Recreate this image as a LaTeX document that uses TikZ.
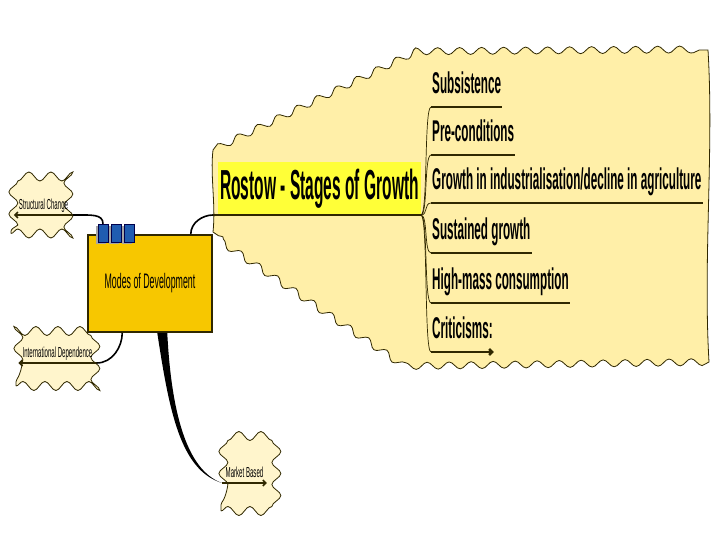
\documentclass[tikz,border=0pt]{standalone}
\usepackage{fontspec}
\setmainfont{Liberation Sans}[FakeStretch=0.42]
\newfontfamily\titlefont{Liberation Sans}[FakeStretch=0.37]
\newfontfamily\itemfont{Liberation Sans}[FakeStretch=0.39]
\usetikzlibrary{arrows.meta}
\usetikzlibrary{decorations.pathmorphing}

\definecolor{notefill}{RGB}{255,239,168}
\definecolor{tagfill}{RGB}{255,245,204}
\definecolor{modesfill}{RGB}{247,199,0}
\definecolor{hilite}{RGB}{255,255,56}
\definecolor{inkline}{RGB}{48,40,0}
\definecolor{tabblue}{RGB}{32,92,176}

\begin{document}
\begin{tikzpicture}[x=1pt, y=-1pt,
    wavy/.style={draw=inkline, fill=tagfill, line width=0.8pt, decorate,
      decoration={snake, segment length=22pt, amplitude=4.5pt}},
    tag/.style={font=\fontsize{14.5}{15}\selectfont, anchor=south, inner ysep=2pt,
      text height=10pt, text depth=3pt},
    item/.style={font=\itemfont\bfseries\fontsize{30}{32}\selectfont, anchor=south west,
      inner xsep=1pt, inner ysep=5pt, text height=22pt, text depth=8pt},
    tab/.style={draw=black!70!blue, fill=tabblue, minimum width=10pt, minimum height=18pt, inner sep=0pt},
    uline/.style={line width=2.4pt, inkline},
    tagline/.style={line width=1.6pt, inkline},
    link/.style={line width=1.6pt, black},
    tip/.tip={Straight Barb[length=3pt, width=6pt]}]

        \useasboundingbox (0,0) rectangle (720,540);

        % Big wavy callout behind the Rostow branch
        \path[fill=notefill, draw=inkline, line width=0.8pt]
            (213,150) decorate[decoration={snake, segment length=22pt, amplitude=3.5pt}] {-- (415,52) -- (708,50)}
            .. controls (714,150) and (703,260) .. (709,362)
            decorate[decoration={snake, segment length=22pt, amplitude=3.5pt}] {-- (410,366) -- (213,232)}
            .. controls (216,205) and (210,175) .. cycle;

        % Central box
        \node[draw=inkline, fill=modesfill, line width=1.5pt, minimum width=124pt, minimum height=97pt,
            font=\fontsize{21}{23}\selectfont] (modes) at (150,283.5) {Modes of Development};
        \foreach \i/\x in {1/103,2/116,3/129} {
            \fill[gray!70] (\x-7,226) rectangle (\x+3,244); % shadow
            \node[tab] (tab\i) at (\x,233) {};
        }

        % Rostow branch
        \node[fill=hilite, font=\titlefont\bfseries\fontsize{42}{44}\selectfont, minimum height=53pt,
            inner xsep=2pt, anchor=south west] (rostow) at (218,215) {Rostow - Stages of Growth};
        \draw[uline] ([xshift=-5pt]rostow.south west) -- (rostow.south east);

        \node[item] (s1) at (431,107) {Subsistence};
        \node[item] (s2) at (431,155) {Pre-conditions};
        \node[item] (s3) at (431,203) {Growth in industrialisation/decline in agriculture};
        \node[item] (s4) at (431,253) {Sustained growth};
        \node[item] (s5) at (431,303) {High-mass consumption};
        \node[item] (s6) at (431,352) {Criticisms:};

        \foreach \s in {s1,s2,s3,s4,s5}
            \draw[uline] (\s.south west) -- (\s.south east);
        \draw[uline, -tip] (s6.south west) -- (s6.south east);
        \foreach \s in {s1,s2,s3,s4,s5,s6}
            \draw[line width=0.7pt, inkline] (rostow.south east) .. controls +(7,0) and +(-7,0) .. (\s.south west);

        % Side branches
        \node[wavy, minimum width=58pt, minimum height=60pt] (scbox) at (40,203.5) {};
        \node[tag, inner xsep=5pt] (sc) at (43.5,215) {Structural Change};
        \draw[tagline, tip-] (sc.south west) -- (sc.south east);

        \node[wavy, minimum width=78pt, minimum height=52pt] (idpbox) at (55,360) {};
        \node[tag, inner xsep=4pt] (idp) at (57.5,363) {International Dependence};
        \draw[tagline, tip-] (idp.south west) -- (idp.south east);

        \node[wavy, minimum width=45pt, minimum height=64pt] (mbbox) at (243.5,479) {};
        \node[tag, inner xsep=3.5pt] (mb) at (244.5,483) {Market Based};
        \draw[tagline, -tip] (mb.south west) -- (mb.south east);

        % Connectors
        \draw[link] ([xshift=-22pt]modes.north east) .. controls +(0,-12) and +(-10,0) .. ([xshift=-5pt]rostow.south west);
        \draw[link] (sc.south east) .. controls +(18,0) and +(0,-10) .. (tab1.north);
        \draw[link] (idp.south east) .. controls +(16,0) and +(0,14) .. ([xshift=35pt]modes.south west);
        \fill ([xshift=70pt]modes.south west) .. controls +(12,78) and +(-42,-13) .. (mb.south west)
            .. controls +(-36,-13) and +(4,78) .. ([xshift=80pt]modes.south west) -- cycle;
        \end{tikzpicture}
\end{document}
